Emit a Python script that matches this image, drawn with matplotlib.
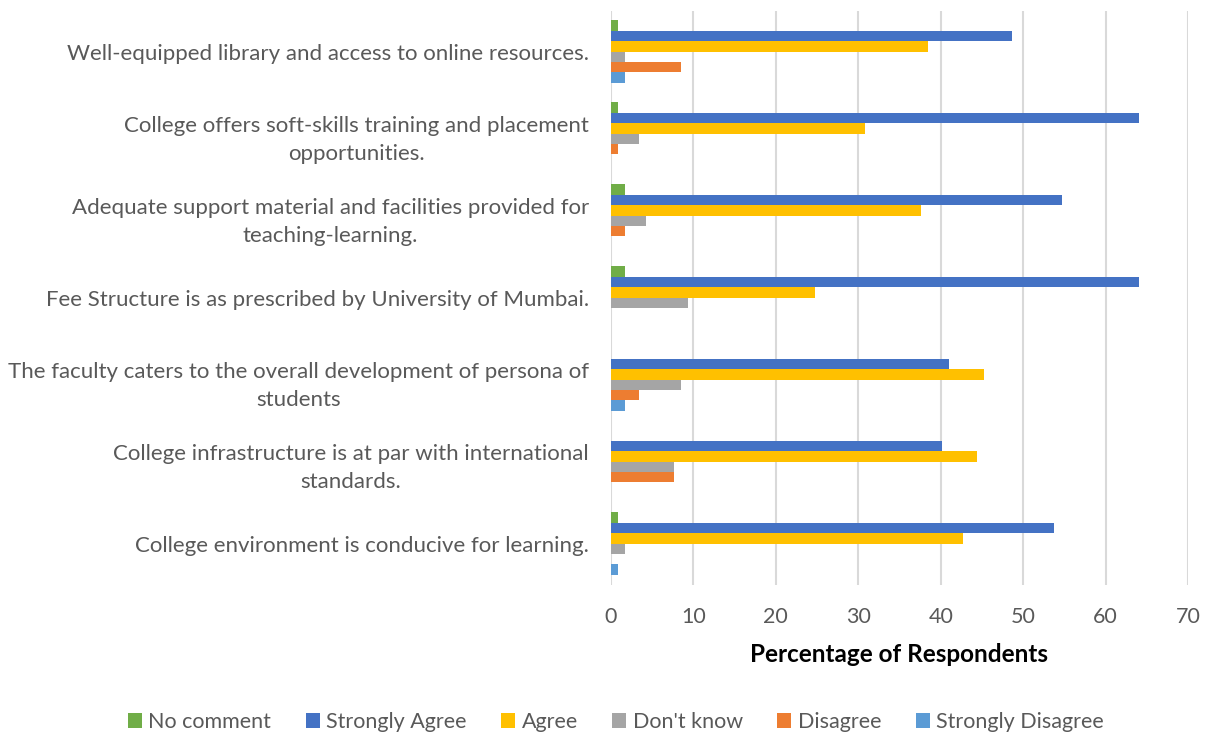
import numpy as np
import matplotlib.pyplot as plt

plt.rcParams['font.family'] = ['Lato', 'DejaVu Sans']

statements = [
    "Well-equipped library and access to online resources.",
    "College offers soft-skills training and placement\nopportunities.",
    "Adequate support material and facilities provided for\nteaching-learning.",
    "Fee Structure is as prescribed by University of Mumbai.",
    "The faculty caters to the overall development of persona of\nstudents",
    "College infrastructure is at par with international\nstandards.",
    "College environment is conducive for learning.",
]

# percentage of respondents, one list per response (order = top to bottom in a group)
no_comment = [0.9, 0.9, 1.7, 1.7, 0.0, 0.0, 0.9]
strongly_agree = [48.7, 64.1, 54.7, 64.1, 41.0, 40.2, 53.8]
agree = [38.5, 30.8, 37.6, 24.8, 45.3, 44.4, 42.7]
dont_know = [1.7, 3.4, 4.3, 9.4, 8.5, 7.7, 1.7]
disagree = [8.5, 0.9, 1.7, 0.0, 3.4, 7.7, 0.0]
strongly_disagree = [1.7, 0.0, 0.0, 0.0, 1.7, 0.0, 0.9]

series = [
    ("No comment", no_comment, "#70AD47"),
    ("Strongly Agree", strongly_agree, "#4472C4"),
    ("Agree", agree, "#FFC000"),
    ("Don't know", dont_know, "#A5A5A5"),
    ("Disagree", disagree, "#ED7D31"),
    ("Strongly Disagree", strongly_disagree, "#5B9BD5"),
]

fig = plt.figure(figsize=(12.12, 7.39), dpi=100)
ax = fig.add_axes([611/1212, 1-584.5/739, 577/1212, 574/739])

y = np.arange(len(statements))
bh = 0.128
n = len(series)
for i, (name, vals, col) in enumerate(series):
    off = (i - (n-1)/2) * bh
    ax.barh(y + off, vals, height=bh, color=col, label=name, zorder=3)

ax.set_ylim(len(statements)-0.5, -0.5)
ax.set_xlim(0, 70)
ax.set_xticks(range(0, 71, 10))
ax.set_yticks(y)
ax.set_yticklabels(statements, multialignment='center', linespacing=1.5)
ax.tick_params(axis='y', length=0, pad=16, labelsize=16, labelcolor='#595959')
ax.tick_params(axis='x', length=0, pad=16, labelsize=15.5, labelcolor='#595959')
ax.grid(axis='x', color='#D9D9D9', linewidth=1.5, zorder=0)
for s in ax.spines.values():
    s.set_visible(False)

ax.set_xlabel("Percentage of Respondents", fontsize=17.5, fontweight='bold',
              color='black', labelpad=12)

fig.legend(loc='center', bbox_to_anchor=(616/1212, 1-722/739), ncol=6,
           frameon=False, fontsize=15.5, labelcolor='#595959',
           handlelength=0.65, handleheight=0.65, handletextpad=0.3,
           columnspacing=1.6)

fig.savefig("out.png", dpi=100)
